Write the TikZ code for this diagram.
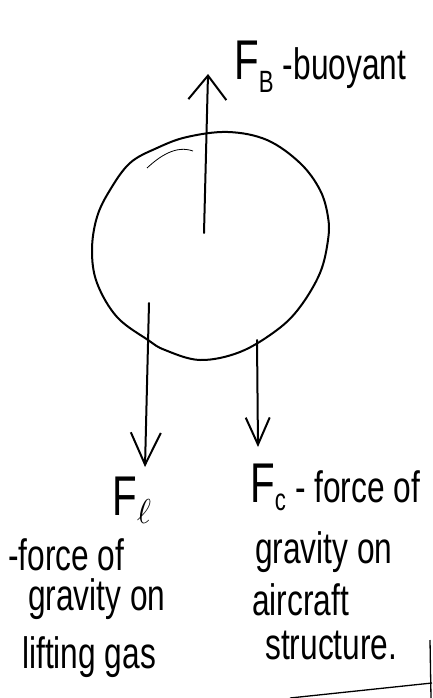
\documentclass[tikz,border=0pt]{standalone}
\usepackage{fontspec}
\usepackage{graphicx}
\usepackage{tikz}
\usetikzlibrary{arrows.meta}
\newfontfamily\handfont[FakeStretch=0.72]{Liberation Sans}
\newcommand{\bigF}{{\fontsize{56}{60}\selectfont F}}
\tikzset{
  pen/.style={line width=2pt, line cap=round, line join=round},
  force/.style={pen},
  hand/.style={font=\handfont\fontsize{44}{52}\selectfont, anchor=base west, inner sep=0pt},
  edge/.style={line width=1.3pt}
}
\begin{document}
\begin{tikzpicture}[x=1pt, y=-1pt]
  \useasboundingbox (0,0) rectangle (432,698);

  % balloon
  \draw[pen] plot[smooth cycle, tension=0.6] coordinates {
    (228,132) (267,140) (300,163) (320,190) (328,217) (328,240) (320,273)
    (300,307) (277,330) (240,352) (200,360) (165,350) (148,340) (117,317)
    (97,283) (92,250) (97,217) (110,190) (130,163) (157,148) (187,137)};
  \draw[line width=0.8pt] (147,168) .. controls (160,156) and (176,145) .. (193,151);

  \coordinate (cB) at (204,233);
  \coordinate (tipB) at (208,74);
  \coordinate (cL) at (149,303);
  \coordinate (tipL) at (145,467);
  \coordinate (cC) at (257,340);
  \coordinate (tipC) at (258,447);

  \draw[force, -{Straight Barb[length=24pt, width=38pt]}] (cB) -- (tipB);
  \draw[force, -{Straight Barb[length=32pt, width=30pt]}] (cL) -- (tipL);
  \draw[force, -{Straight Barb[length=27pt, width=24pt]}] (cC) -- (tipC);

  % labels
  \node[hand] (fb) at (234,80) {\bigF\textsubscript{B} -buoyant};

  \node[hand] (fl) at (112,515) {\bigF\raisebox{-8pt}{\resizebox{!}{24pt}{$\ell$}}};
  \node[hand] (fl1) at (8,570) {-force of};
  \node[hand] (fl2) at (28,610) {gravity on};
  \node[hand] (fl3) at (22,668) {lifting gas};

  \node[hand] (fc) at (250,502) {\bigF\textsubscript{c} - force of};
  \node[hand] (fc1) at (255,563) {gravity on};
  \node[hand] (fc2) at (252,615) {aircraft};
  \node[hand] (fc3) at (265,659) {structure.};

  % page edge
  \draw[edge] (430,640) -- (431,698);
  \draw[edge] (290,698) -- (432,683);
\end{tikzpicture}
\end{document}
